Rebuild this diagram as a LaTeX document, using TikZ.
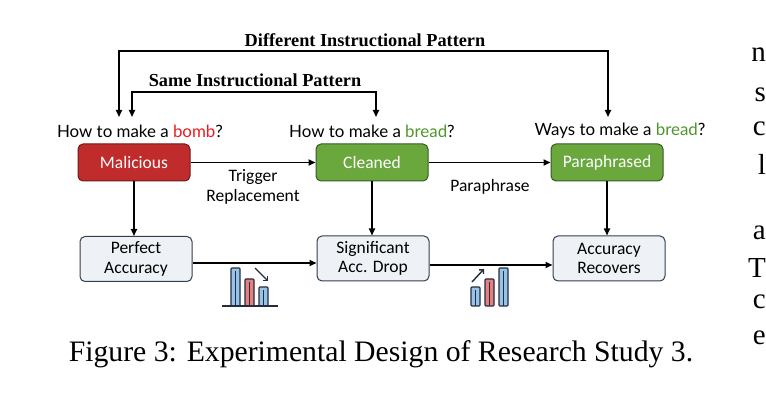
\documentclass[tikz,border=0pt]{standalone}
\usepackage{fontspec}
\setmainfont{Liberation Serif}
\newfontfamily\boxfont{Carlito}
\newfontfamily\qfont{Lato}
\usetikzlibrary{arrows.meta}
\definecolor{malred}{RGB}{192,44,44}
\definecolor{malborder}{RGB}{110,25,25}
\definecolor{cgreen}{RGB}{106,168,62}
\definecolor{cborder}{RGB}{55,90,35}
\definecolor{bombred}{RGB}{232,30,30}
\definecolor{breadgreen}{RGB}{80,150,45}
\definecolor{lightbox}{RGB}{238,242,246}
\definecolor{lightborder}{RGB}{50,62,75}
\definecolor{barblue}{RGB}{150,195,232}
\definecolor{barred}{RGB}{232,128,128}
\definecolor{iconline}{RGB}{35,45,60}
\tikzset{
  box/.style={draw, rounded corners=5pt, minimum width=112pt, minimum height=37pt,
    line width=1pt, inner sep=0pt, align=center,
    font=\boxfont\fontsize{17.5}{19.5}\selectfont},
  topbox/.style={box, text=white},
  lowbox/.style={box, fill=lightbox, draw=lightborder, minimum height=45pt},
  arr/.style={-{Triangle[length=7pt,width=6pt]}, line width=1.6pt},
  arrboth/.style={{Triangle[length=7pt,width=6pt]}-{Triangle[length=7pt,width=6pt]}, line width=1.6pt},
  qtext/.style={font=\qfont\fontsize{16.9}{19}\selectfont, inner sep=0pt},
  ltext/.style={font=\boxfont\fontsize{17.5}{20}\selectfont, align=center, inner sep=0pt},
  head/.style={font=\fontsize{18.3}{20}\selectfont\bfseries, inner sep=0pt},
  bar/.style={draw=iconline, line width=1.1pt, rounded corners=0.8pt},
  edgeletter/.style={font=\fontsize{29}{31}\selectfont, anchor=east, inner sep=0pt}
}
\begin{document}
\begin{tikzpicture}[x=1pt,y=-1pt]
\useasboundingbox (0,0) rectangle (766,403);
% header labels
\node[head] (diff) at (365,40) {Different Instructional Pattern};
\node[head] (same) at (255,80) {Same Instructional Pattern};
% question labels
\node[qtext] (q1) at (140,131) {How to make a \textcolor{bombred}{bomb}?};
\node[qtext] (q2) at (372,131) {How to make a \textcolor{breadgreen}{bread}?};
\node[qtext] (q3) at (620,131) {Ways to make a \textcolor{breadgreen}{bread}?};
% top boxes
\node[topbox, fill=malred, draw=malborder] (mal) at (134,162.5) {Malicious};
\node[topbox, fill=cgreen, draw=cborder] (cln) at (372,162.5) {Cleaned};
\node[topbox, fill=cgreen, draw=cborder] (par) at (607,162.5) {Paraphrased};
% bottom boxes
\node[lowbox] (pa) at (136,259) {Perfect\\Accuracy};
\node[lowbox] (sig) at (373,258.5) {Significant\\Acc. Drop};
\node[lowbox] (rec) at (609,258.5) {Accuracy\\Recovers};
% edge labels
\node[ltext] (trig) at (253,187) {Trigger\\Replacement};
\node[ltext] (para) at (490,187) {Paraphrase};
% top pattern arrows
\coordinate (d1) at (119,117);
\coordinate (d2) at (608,117);
\coordinate (dtop) at (364,51);
\draw[arrboth] (d1) |- (dtop) -| (d2);
\coordinate (s1) at (132,117);
\coordinate (s2) at (376,117);
\coordinate (stop) at (255,92);
\draw[arrboth] (s1) |- (stop) -| (s2);
% flow arrows
\draw[arr] (mal) -- (cln);
\draw[arr] (cln) -- (par);
\draw[arr] (mal.south) -- (mal.south |- pa.north);
\draw[arr] (cln.south) -- (cln.south |- sig.north);
\draw[arr] (par.south) -- (par.south |- rec.north);
\draw[arr] (pa.east |- 0,263) -- (sig.west |- 0,263);
\draw[arr] (sig.east |- 0,265) -- (rec.west |- 0,265);
% icon 1 (drop)
\draw[bar, fill=barblue] (231,306) rectangle (240,268);
\draw[bar, fill=barred] (245,306) rectangle (254,279);
\draw[bar, fill=barblue] (259,306) rectangle (268,287);
\draw[iconline, line width=0.7pt] (235.5,271) -- (235.5,306) (249.5,282) -- (249.5,306) (263.5,290) -- (263.5,306);
\draw[iconline, line width=1.8pt] (222,306) -- (278,306);
\draw[iconline, line width=1.4pt, -{Straight Barb[length=3pt,width=6pt]}] (255,268) -- (268,281);
% icon 2 (recover)
\draw[bar, fill=barblue] (471,306) rectangle (480,287);
\draw[bar, fill=barred] (485,306) rectangle (494,279);
\draw[bar, fill=barblue] (499,306) rectangle (508,268);
\draw[iconline, line width=0.7pt] (475.5,290) -- (475.5,306) (489.5,282) -- (489.5,306) (503.5,271) -- (503.5,306);
\draw[iconline, line width=1.4pt, -{Straight Barb[length=3pt,width=6pt]}] (472,282) -- (484,269);
% caption
\node[font=\fontsize{29.7}{32}\selectfont, inner sep=0pt] (cap) at (381,354) {Figure 3: Experimental Design of Research Study 3.};
% letters of the neighbouring column
\node[edgeletter] (e1) at (766,55) {n};
\node[edgeletter] (e2) at (766,95) {s};
\node[edgeletter] (e3) at (766,129) {c};
\node[edgeletter] (e4) at (766,164) {l};
\node[edgeletter] (e5) at (766,233) {a};
\node[edgeletter] (e6) at (766,268) {T};
\node[edgeletter] (e7) at (766,302) {c};
\node[edgeletter] (e8) at (766,338) {e};
\end{tikzpicture}
\end{document}
